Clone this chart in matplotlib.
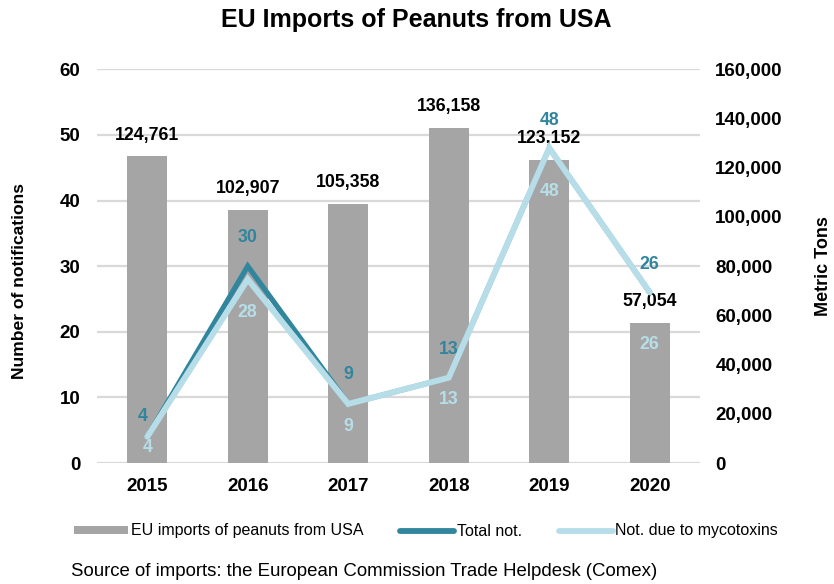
import matplotlib
matplotlib.use("Agg")
import matplotlib.pyplot as plt
from matplotlib.patches import Patch
from matplotlib.lines import Line2D

plt.rcParams['font.family'] = ['Liberation Sans', 'DejaVu Sans']

years = ["2015", "2016", "2017", "2018", "2019", "2020"]
imports_tons = [124761, 102907, 105358, 136158, 123152, 57054]
total_not = [4, 30, 9, 13, 48, 26]
myco_not = [4, 28, 9, 13, 48, 26]

BAR = "#A5A5A5"
TEAL = "#31859C"
LIGHT = "#B7DEE8"
GRID = "#D9D9D9"

W, H = 834, 584
fig = plt.figure(figsize=(W / 100, H / 100), dpi=100)
ax = fig.add_axes([97 / W, 1 - 463 / H, (700 - 97) / W, (463 - 69.3) / H])
ax2 = ax.twinx()

x = list(range(len(years)))

ax2.set_zorder(1)
ax.set_zorder(2)
ax.patch.set_visible(False)

ax2.bar(x, imports_tons, width=0.4, color=BAR, zorder=2)
ax2.set_ylim(0, 160000)
ax2.set_yticks(range(0, 160001, 20000))
ax2.set_yticklabels([f"{v:,}" for v in range(0, 160001, 20000)],
                    fontsize=13.5, fontweight='bold')

for xi, v in zip(x, imports_tons):
    ax2.annotate(f"{v:,}", (xi, v), xytext=(0, 21), textcoords='offset pixels',
                 ha='center', va='center', fontsize=12.8, fontweight='bold',
                 color='black', zorder=5)

ax.set_ylim(0, 60)
ax.set_xlim(-0.5, 5.5)
ax.set_yticks(range(0, 61, 10))
ax.set_yticklabels([str(v) for v in range(0, 61, 10)], fontsize=13.5, fontweight='bold')
ax.set_xticks(x)
ax.set_xticklabels(years, fontsize=13.5, fontweight='bold')

for gv in range(0, 61, 10):
    ax2.axhline(gv / 60 * 160000, color=GRID, lw=1.6, zorder=0)

ax.plot(x, total_not, color=TEAL, lw=3.8, solid_capstyle='round',
        solid_joinstyle='miter', zorder=3)
ax.plot(x, myco_not, color=LIGHT, lw=4.3, solid_capstyle='round',
        solid_joinstyle='miter', zorder=4)

teal_off = [(-5, 20), (0, 29), (0, 29), (0, 28), (0, 28), (0, 28)]
light_off = [(0, -11), (0, -33), (0, -23), (0, -22), (0, -43), (0, -52)]
for xi, v, off in zip(x, total_not, teal_off):
    ax.annotate(str(v), (xi, v), xytext=off, textcoords='offset pixels',
                ha='center', va='center', fontsize=12.8, fontweight='bold',
                color=TEAL, zorder=6)
for xi, v, off in zip(x, myco_not, light_off):
    ax.annotate(str(v), (xi, v), xytext=off, textcoords='offset pixels',
                ha='center', va='center', fontsize=12.8, fontweight='bold',
                color=LIGHT, zorder=6)

for a in (ax, ax2):
    for s in a.spines.values():
        s.set_visible(False)
    a.tick_params(length=0)
ax.tick_params(axis='y', pad=12)
ax.tick_params(axis='x', pad=11)
ax2.tick_params(axis='y', pad=11)

fig.text(416 / W, 1 - 20 / H, "EU Imports of Peanuts from USA", ha='center',
         va='center', fontsize=18, fontweight='bold')
fig.text(20 / W, 1 - 281 / H, "Number of notifications", rotation=90,
         ha='center', va='center', fontsize=12.6, fontweight='bold')
fig.text(823 / W, 1 - 266 / H, "Metric Tons", rotation=90,
         ha='center', va='center', fontsize=13, fontweight='bold')

handles = [Patch(facecolor=BAR, edgecolor='none'),
           Line2D([], [], color=TEAL, lw=4.2, solid_capstyle='round'),
           Line2D([], [], color=LIGHT, lw=4.2, solid_capstyle='round')]
labels = ["EU imports of peanuts from USA", "Total not.", "Not. due to mycotoxins"]
fig.legend(handles, labels, loc='center', bbox_to_anchor=(426 / W, 1 - 531 / H),
           ncol=3, frameon=False, fontsize=11.5, handlelength=3.4,
           handleheight=0.45, handletextpad=0.15, columnspacing=2.3)

fig.text(71 / W, 1 - 572 / H,
         "Source of imports: the European Commission Trade Helpdesk (Comex)",
         ha='left', va='center', fontsize=13.4)

fig.savefig("out.png", dpi=100)
